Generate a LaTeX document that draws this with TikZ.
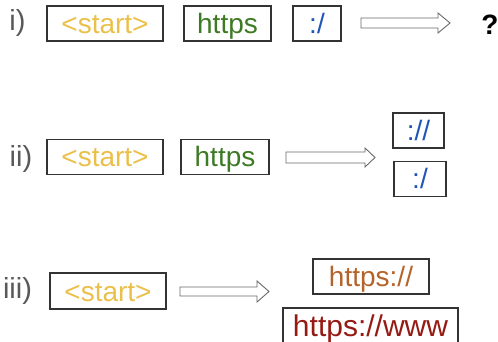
\documentclass[tikz,border=0pt]{standalone}
\usepackage{fontspec}
\setmainfont{Liberation Sans}
\begin{document}
\begin{tikzpicture}[x=1pt,y=-1pt,
  lbl/.style={text=labgray,font=\fontsize{29}{30}\selectfont,inner sep=0pt},
  tok/.style={draw=boxgray,line width=1.2pt,inner sep=0pt,text height=20pt,text depth=0pt,
              minimum height=35pt,font=\fontsize{28}{30}\selectfont},
  blockarrow/.style={draw=arrgray,line width=0.9pt,fill=white,line join=miter}]
\definecolor{labgray}{HTML}{595959}
\definecolor{boxgray}{HTML}{333333}
\definecolor{arrgray}{HTML}{6A6A6A}
\definecolor{cstart}{HTML}{EBC04A}
\definecolor{chttps}{HTML}{3E7A24}
\definecolor{cblue}{HTML}{1F55B8}
\definecolor{cbrown}{HTML}{B4642A}
\definecolor{cred}{HTML}{961A14}
\useasboundingbox (0,0) rectangle (498,342);
\clip (0,0) rectangle (498,342);

% Row i
\node[lbl] (li) at (17.5,22.5) {i)};
\node[tok,minimum width=116pt,text=cstart] (s1) at (105,23.5) {<start>};
\node[tok,minimum width=87pt,text=chttps] (h1) at (227.5,23.5) {https};
\node[tok,minimum width=48pt,text=cblue] (c1) at (317,23.5) {:/};
\draw[blockarrow] (361,18) -- (438,18) -- (438,13) -- (450,23) -- (438,33) -- (438,28) -- (361,28) -- cycle;
\node[inner sep=0pt,font=\fontsize{28}{30}\selectfont\bfseries,text height=20pt,text depth=0pt] (q) at (490,24.5) {?};

% Row ii
\node[lbl] (lii) at (21,159) {ii)};
\node[tok,minimum width=116pt,text=cstart] (s2) at (105,157) {<start>};
\node[tok,minimum width=88pt,text=chttps] (h2) at (225,157) {https};
\draw[blockarrow] (286,152) -- (365,152) -- (365,148) -- (375,157.5) -- (365,167) -- (365,163) -- (286,163) -- cycle;
\node[tok,minimum width=51pt,text=cblue] (c2a) at (418.5,130.5) {://};
\node[tok,minimum width=52pt,text=cblue] (c2b) at (420,179) {:/};

% Row iii
\node[lbl] (liii) at (17.5,291) {iii)};
\node[tok,minimum width=116pt,minimum height=36pt,text=cstart] (s3) at (108,291) {<start>};
\draw[blockarrow] (180,287) -- (257,287) -- (257,281) -- (269,291.5) -- (257,302) -- (257,296) -- (180,296) -- cycle;
\node[tok,minimum width=116pt,text=cbrown] (h3) at (371,276.5) {https://};
\node[tok,minimum width=175pt,minimum height=36pt,text height=21.5pt,text=cred,font=\fontsize{30}{32}\selectfont] (h3w) at (370.5,326) {https://www};
\end{tikzpicture}
\end{document}
